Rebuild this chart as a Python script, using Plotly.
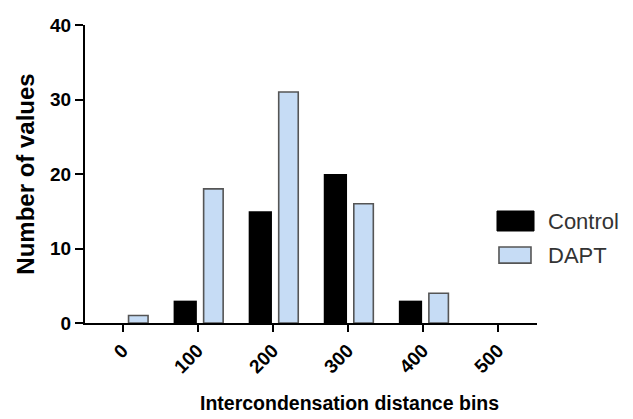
import plotly.graph_objects as go

bins = [0, 100, 200, 300, 400, 500]
bin_labels = ["0", "100", "200", "300", "400", "500"]
control = [0, 3, 15, 20, 3, 0]
dapt = [1, 18, 31, 16, 4, 0]
y_ticks = [0, 10, 20, 30, 40]

FONT = "Liberation Sans, Arial, sans-serif"

fig = go.Figure()
fig.add_trace(go.Bar(x=bins, y=control, name="Control", offset=-32, width=31,
                     marker=dict(color="#000000", line=dict(color="#000000", width=0))))
fig.add_trace(go.Bar(x=bins, y=dapt, name="DAPT", offset=8, width=26,
                     marker=dict(color="#C6DCF5",
                                 line=dict(color="#555555",
                                           width=[1.6 if v > 0 else 0 for v in dapt]))))

# legend drawn manually (large swatches as in reference)
fig.add_shape(type="rect", xref="paper", yref="paper", x0=0.9115, x1=0.9934, y0=0.3087, y1=0.3758,
              fillcolor="#000000", line=dict(color="#000000", width=1))
fig.add_shape(type="rect", xref="paper", yref="paper", x0=0.9159, x1=0.9867, y0=0.201, y1=0.255,
              fillcolor="#C6DCF5", line=dict(color="#555555", width=1.6))
fig.add_annotation(xref="paper", yref="paper", x=1.02, y=0.342, text="Control", showarrow=False,
                   xanchor="left", yanchor="middle", font=dict(family=FONT, size=22, color="#333333"))
fig.add_annotation(xref="paper", yref="paper", x=1.02, y=0.228, text="DAPT", showarrow=False,
                   xanchor="left", yanchor="middle", font=dict(family=FONT, size=22, color="#333333"))

# x-axis title (offset to the right as in reference)
fig.add_annotation(xref="paper", yref="paper", x=0.586, y=-0.268,
                   text="Intercondensation distance bins", showarrow=False,
                   xanchor="center", yanchor="middle",
                   font=dict(family=FONT, size=19.5, weight="bold", color="#000000"))

fig.update_layout(
    width=625, height=411,
    margin=dict(l=77, r=96, t=17, b=96),
    paper_bgcolor="white", plot_bgcolor="white",
    barmode="overlay",
    showlegend=False,
    font=dict(family=FONT, color="#000000"),
)
fig.update_xaxes(
    range=[-50, 552], tickmode="array", tickvals=bins, ticktext=bin_labels,
    tickangle=-45, showline=True, linecolor="#000000", linewidth=2,
    ticks="outside", ticklen=7, tickwidth=2, tickcolor="#000000",
    showgrid=False, zeroline=False, automargin=False,
    tickfont=dict(family=FONT, size=19, weight="bold"),
)
fig.update_yaxes(
    range=[0, 40], tickmode="array", tickvals=y_ticks,
    showline=True, linecolor="#000000", linewidth=2,
    ticks="outside", ticklen=8, tickwidth=2, tickcolor="#000000",
    showgrid=False, zeroline=False, automargin=False,
    tickfont=dict(family=FONT, size=19, weight="bold"),
    title=dict(text="Number of values", standoff=9,
               font=dict(family=FONT, size=24, weight="bold")),
)

fig.write_html("out.html")
